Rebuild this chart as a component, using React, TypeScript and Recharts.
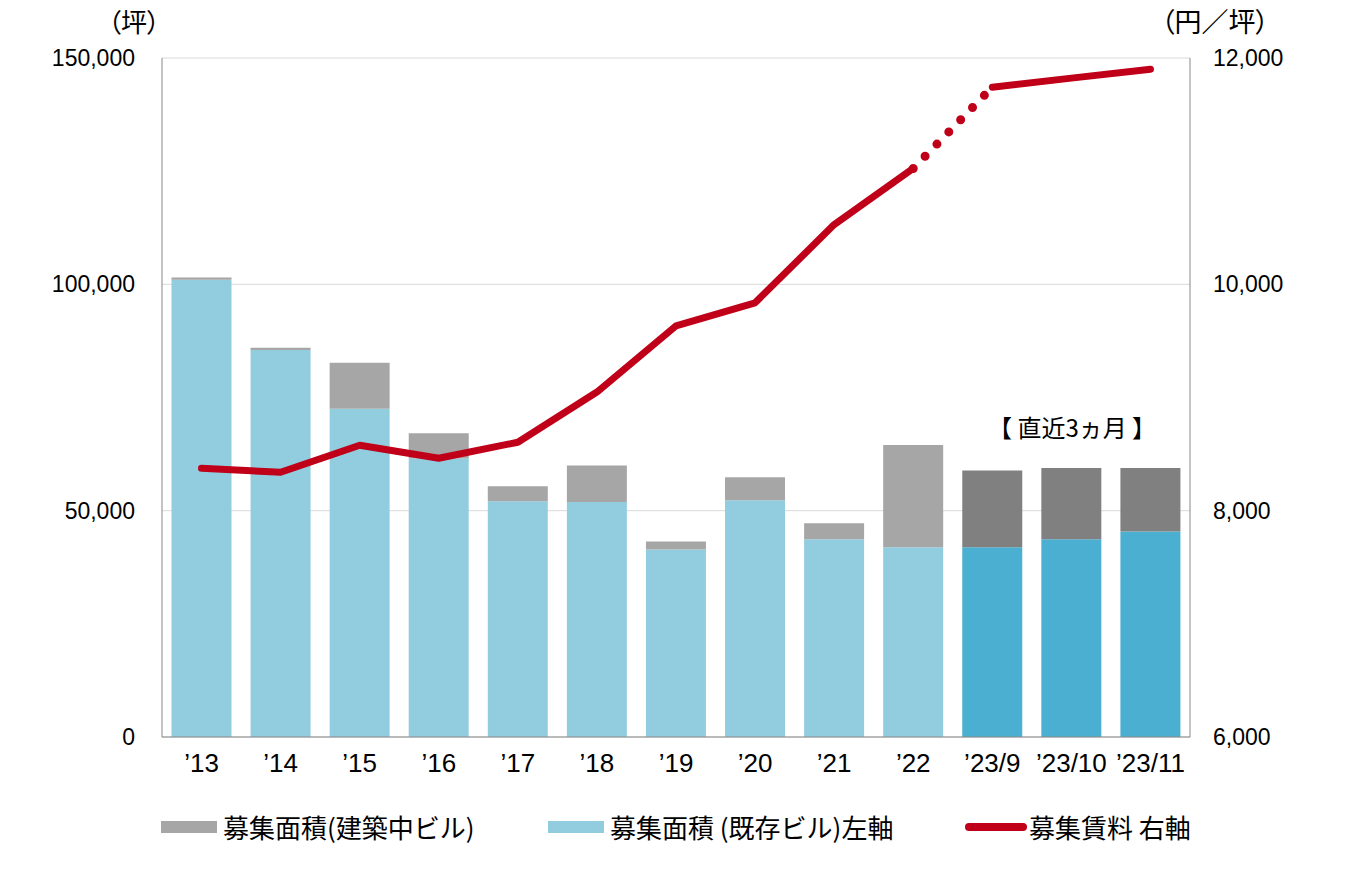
import React from "react";
import {
  ComposedChart,
  Bar,
  Line,
  XAxis,
  YAxis,
  CartesianGrid,
  Legend,
  Cell,
} from "recharts";

const categories = ["’13", "’14", "’15", "’16", "’17", "’18", "’19", "’20", "’21", "’22", "’23/9", "’23/10", "’23/11"];
const existingArea = [101000, 85500, 72500, 61500, 52100, 51900, 41400, 52300, 43700, 41900, 41900, 43700, 45400];
const constructionArea = [500, 500, 10200, 5600, 3300, 8100, 1800, 5100, 3500, 22600, 17000, 15700, 14000];
const rent = [8375, 8339, 8578, 8463, 8605, 9048, 9633, 9837, 10528, 11024, 11742, 11822, 11901];
const recentFlags = [false, false, false, false, false, false, false, false, false, false, true, true, true];
const leftTicks = [0, 50000, 100000, 150000];
const rightTicks = [6000, 8000, 10000, 12000];

const LAST_YEAR = 9;

const data = categories.map((c, i) => ({
  name: c,
  existing: existingArea[i],
  construction: constructionArea[i],
  rentA: i <= LAST_YEAR ? rent[i] : null,
  rentDot: i === LAST_YEAR || i === LAST_YEAR + 1 ? rent[i] : null,
  rentB: i > LAST_YEAR ? rent[i] : null,
  recent: recentFlags[i],
}));

const C_BLUE = "#92CDDF";
const C_BLUE_D = "#4BAFD2";
const C_GRAY = "#A6A6A6";
const C_GRAY_D = "#808080";
const C_RED = "#C00018";

const NUM_FONT = "'Liberation Sans', Arial, sans-serif";
const JP_FONT = "'Noto Sans CJK JP', 'Noto Sans CJK SC', sans-serif";

const fmt = (v: number) => v.toLocaleString("en-US");

const LegendContent = () => (
  <div style={{ position: "relative", width: 1354, height: 40, fontFamily: JP_FONT, fontSize: 26, color: "#000" }}>
    <div style={{ position: "absolute", left: 153, top: 13, width: 56, height: 12, background: C_GRAY }} />
    <div style={{ position: "absolute", left: 215, top: 0, lineHeight: "38px", whiteSpace: "nowrap" }}>募集面積(建築中ビル)</div>
    <div style={{ position: "absolute", left: 540, top: 13, width: 56, height: 12, background: C_BLUE }} />
    <div style={{ position: "absolute", left: 602, top: 0, lineHeight: "38px", whiteSpace: "nowrap" }}>募集面積 (既存ビル)左軸</div>
    <div style={{ position: "absolute", left: 957, top: 15, width: 62, height: 8, borderRadius: 4, background: C_RED }} />
    <div style={{ position: "absolute", left: 1021, top: 0, lineHeight: "38px", whiteSpace: "nowrap" }}>募集賃料 右軸</div>
  </div>
);

export default function App() {
  return (
    <div style={{ position: "relative", width: 1354, height: 869, background: "#fff" }}>
      <ComposedChart
        width={1354}
        height={869}
        data={data}
        margin={{ top: 50, right: 0, left: 0, bottom: 40 }}
        barCategoryGap="12%"
      >
        <CartesianGrid yAxisId="left" vertical={false} stroke="#D9D9D9" />
        <XAxis
          dataKey="name"
          tickLine={false}
          axisLine={{ stroke: "#888" }}
          tickSize={0}
          tickMargin={17}
          height={60}
          interval={0}
          tick={{ fontFamily: NUM_FONT, fontSize: 26, fill: "#000" }}
        />
        <YAxis
          yAxisId="left"
          orientation="left"
          width={154}
          domain={[0, 150000]}
          ticks={leftTicks}
          tickFormatter={fmt}
          tickLine={false}
          tickSize={0}
          tickMargin={27}
          axisLine={{ stroke: "#888" }}
          tick={{ fontFamily: NUM_FONT, fontSize: 23, fill: "#000" }}
        />
        <YAxis
          yAxisId="right"
          orientation="right"
          width={172}
          domain={[6000, 12000]}
          ticks={rightTicks}
          tickFormatter={fmt}
          tickLine={false}
          tickSize={0}
          tickMargin={23}
          axisLine={{ stroke: "#888" }}
          tick={{ fontFamily: NUM_FONT, fontSize: 23, fill: "#000", textAnchor: "start" }}
        />
        <Bar yAxisId="left" dataKey="existing" stackId="a" isAnimationActive={false} name="募集面積 (既存ビル)左軸">
          {data.map((d, i) => (
            <Cell key={i} fill={d.recent ? C_BLUE_D : C_BLUE} />
          ))}
        </Bar>
        <Bar yAxisId="left" dataKey="construction" stackId="a" isAnimationActive={false} name="募集面積(建築中ビル)">
          {data.map((d, i) => (
            <Cell key={i} fill={d.recent ? C_GRAY_D : C_GRAY} />
          ))}
        </Bar>
        <Line
          yAxisId="right"
          dataKey="rentA"
          stroke={C_RED}
          strokeWidth={7}
          strokeLinecap="round"
          strokeLinejoin="round"
          dot={false}
          activeDot={false}
          isAnimationActive={false}
          connectNulls={false}
          type="linear"
        />
        <Line
          yAxisId="right"
          dataKey="rentDot"
          stroke={C_RED}
          strokeWidth={9}
          strokeLinecap="round"
          strokeDasharray="0 17"
          dot={false}
          activeDot={false}
          isAnimationActive={false}
          connectNulls={false}
          type="linear"
        />
        <Line
          yAxisId="right"
          dataKey="rentB"
          stroke={C_RED}
          strokeWidth={7}
          strokeLinecap="round"
          strokeLinejoin="round"
          dot={false}
          activeDot={false}
          isAnimationActive={false}
          connectNulls={false}
          type="linear"
        />
        <Legend
          content={<LegendContent />}
          wrapperStyle={{ position: "absolute", left: 0, top: 800, width: 1354, height: 40 }}
        />
      </ComposedChart>
      <div
        style={{
          position: "absolute",
          left: 100,
          top: 0,
          fontFamily: JP_FONT,
          fontSize: 26,
          lineHeight: "26px",
          fontFeatureSettings: "'palt'",
          whiteSpace: "nowrap",
        }}
      >
        （坪）
      </div>
      <div
        style={{
          position: "absolute",
          left: 1153,
          top: 0,
          fontFamily: JP_FONT,
          fontSize: 27,
          lineHeight: "26px",
          fontFeatureSettings: "'palt'",
          whiteSpace: "nowrap",
        }}
      >
        （円／坪）
      </div>
      <div
        style={{
          position: "absolute",
          left: 980,
          top: 404,
          fontFamily: JP_FONT,
          fontSize: 24,
          lineHeight: "30px",
          whiteSpace: "nowrap",
        }}
      >
        【 直近3ヵ月 】
      </div>
    </div>
  );
}
